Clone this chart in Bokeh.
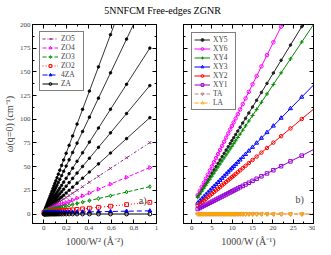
import math
from bokeh.plotting import figure
from bokeh.layouts import row, column
from bokeh.models import (Div, LinearAxis, FixedTicker, Legend, LegendItem, Label,
                          CustomJSTickFormatter)
from bokeh.embed import file_html
from bokeh.resources import INLINE

FONT = "Liberation Serif"

widths = [32.6, 36.9, 41.1, 45.4, 49.7, 53.9, 58.2, 62.5, 66.7, 71.0, 75.3, 79.5,
          83.8, 88.0, 92.3, 96.6, 100.8, 105.3, 111.1, 117.6, 125.0, 133.3, 142.9,
          153.8, 166.7, 181.8, 200.0, 222.2, 250.0, 285.7, 333.3, 400.0, 500.0, 666.7]

# panel a): omega(q=0) = intercept + slope * (1000/W^2)
fan_intercepts = [1.0, 1.0, 1.0, 1.0, 1.0]
fan_slopes = [318.0, 250.0, 185.0, 143.0, 107.0]
left_names = ["ZO5", "ZO4", "ZO3", "ZO2", "4ZA", "ZA"]
left_intercepts = [2.0, 2.0, 3.0, 1.5, 1.5, 0.0]
left_slopes = [78.0, 50.0, 27.5, 11.5, 2.0, 0.0]

# panel b): omega(q=0) = intercept + slope * (1000/W)
right_names = ["XY5", "XY6", "XY4", "XY3", "XY2", "XY1", "TA", "LA"]
right_intercepts = [8.0, 7.0, 8.0, 5.0, 3.5, 2.0, 0.0, 0.0]
right_slopes = [7.0, 8.66, 6.4, 4.37, 3.57, 2.2, 0.0, 0.0]

left_xticks = [0, 0.2, 0.4, 0.6, 0.8, 1.0]
left_xlabels = ["0", "0,2", "0,4", "0,6", "0,8", "1"]
yticks = [0, 25, 50, 75, 100, 125, 150, 175, 200]
right_xticks = [0, 5, 10, 15, 20, 25, 30]

# styles
left_colors = ["#8B2A7A", "#FF00FF", "#008B00", "#FF0000", "#0000FF", "#000000"]
left_dashes = ["3 2 1 2", "4 2", "4 2", "1 2", "5 3", "solid"]
left_markers = ["x", "triangle", "diamond", "square", "triangle", "circle"]
left_angles = [0, -math.pi / 2, 0, 0, 0, 0]
left_fill = [0, 0, 0, 0, 1, 0]

right_colors = ["#222222", "#FF00FF", "#008B00", "#0000FF", "#FF0000", "#9400D3", "#C08080", "#FFA500"]
right_dashes = ["solid", "solid", "solid", "solid", "solid", "solid", "4 2", "4 2 1 2"]
right_markers = ["circle", "circle", "cross", "triangle", "circle", "square", "inverted_triangle", "triangle"]
right_angles = [0, 0, 0, 0, 0, 0, 0, math.pi / 2]
right_fill = [1, 0, 0, 0, 0, 0, 0, 0]
right_sizes = [2.5, 3.5, 4, 4, 3.5, 3.5, 4, 4]

x_left = [1000.0 / (w * w) for w in widths]
x_right = [1000.0 / w for w in widths]


def style_axis(ax, labels=True, title=None):
    ax.axis_line_color = "black"
    ax.axis_line_width = 1
    ax.major_tick_in = 4
    ax.major_tick_out = 0
    ax.minor_tick_in = 2
    ax.minor_tick_out = 0
    ax.major_tick_line_color = "black"
    ax.minor_tick_line_color = "black"
    ax.major_label_text_font = FONT
    if labels:
        ax.major_label_text_font_size = "7px"
        ax.major_label_standoff = 2
    else:
        ax.major_label_text_font_size = "0px"
        ax.major_label_standoff = 0
        ax.formatter = CustomJSTickFormatter(code="return ''")
    if title is not None:
        ax.axis_label = title
        ax.axis_label_text_font = FONT
        ax.axis_label_text_font_size = "10px"
        ax.axis_label_text_font_style = "normal"
        ax.axis_label_standoff = 3


def make_fig(width, xr, mbl, mbr):
    f = figure(width=width, height=227, x_range=xr, y_range=(-10, 200),
               output_backend="svg", toolbar_location=None,
               min_border_left=mbl, min_border_right=mbr,
               min_border_top=2, min_border_bottom=26)
    f.grid.visible = False
    f.outline_line_color = "black"
    f.background_fill_color = "white"
    return f


def make_legend(items, margin):
    return Legend(items=items, location="top_left", margin=margin, padding=2, spacing=0,
                  label_height=7, glyph_height=7, glyph_width=16, label_standoff=3,
                  label_text_font=FONT, label_text_font_size="7.5px",
                  label_text_line_height=0.9,
                  border_line_color="black", border_line_width=1,
                  background_fill_color="white", background_fill_alpha=1)


# ---------------- panel a ----------------
f1 = make_fig(170, (-0.1, 1.0), 26, 14)
xt1 = FixedTicker(ticks=left_xticks, minor_ticks=[-0.1, 0.1, 0.3, 0.5, 0.7, 0.9])
yt = FixedTicker(ticks=yticks, minor_ticks=[12.5 + 25 * i for i in range(8)])
f1.xaxis.ticker = xt1
f1.xaxis.major_label_overrides = {t: l for t, l in zip(left_xticks, left_xlabels)}
f1.yaxis.ticker = yt
style_axis(f1.xaxis[0], True, "1000/W² (Å⁻²)")
style_axis(f1.yaxis[0], True, "ω(q=0) (cm⁻¹)")
f1.yaxis[0].axis_label_standoff = 2
top1 = LinearAxis(ticker=xt1)
style_axis(top1, False)
f1.add_layout(top1, "above")
right1 = LinearAxis(ticker=yt)
style_axis(right1, False)
f1.add_layout(right1, "right")

for a, b in zip(fan_intercepts, fan_slopes):
    ys = [a + b * x for x in x_left]
    f1.line(x_left, ys, line_color="black", line_width=0.8)
    f1.scatter(x_left, ys, marker="circle", size=2.6, line_color="black",
               fill_color="black", line_width=0.8)

items1 = []
for name, a, b, c, d, m, ang, fl in zip(left_names, left_intercepts, left_slopes,
                                        left_colors, left_dashes, left_markers,
                                        left_angles, left_fill):
    ys = [a + b * x for x in x_left]
    lr = f1.line(x_left, ys, line_color=c, line_width=1, line_dash=d)
    sr = f1.scatter(x_left, ys, marker=m, size=3.8, angle=ang, line_color=c,
                    fill_color=c, fill_alpha=fl, line_width=1)
    items1.append(LegendItem(label=name, renderers=[lr, sr]))

f1.add_layout(make_legend(items1, 7))
f1.add_layout(Label(x=0.878, y=14.4, text="a)", text_font=FONT, text_font_size="10px",
                    text_align="center", text_baseline="middle"))

# ---------------- panel b ----------------
f2 = make_fig(145, (-2, 30), 13, 2)
xt2 = FixedTicker(ticks=right_xticks, minor_ticks=[2.5 + 5 * i for i in range(6)])
f2.xaxis.ticker = xt2
f2.yaxis.ticker = yt
style_axis(f2.xaxis[0], True, "1000/W (Å⁻¹)")
style_axis(f2.yaxis[0], False)
top2 = LinearAxis(ticker=xt2)
style_axis(top2, False)
f2.add_layout(top2, "above")
right2 = LinearAxis(ticker=yt)
style_axis(right2, False)
f2.add_layout(right2, "right")

items2 = []
for name, a, b, c, d, m, ang, fl, sz in zip(right_names, right_intercepts, right_slopes,
                                            right_colors, right_dashes, right_markers,
                                            right_angles, right_fill, right_sizes):
    ys = [a + b * x for x in x_right]
    lr = f2.line(x_right, ys, line_color=c, line_width=1, line_dash=d)
    sr = f2.scatter(x_right, ys, marker=m, size=sz, angle=ang, line_color=c,
                    fill_color=c, fill_alpha=fl, line_width=1)
    items2.append(LegendItem(label=name, renderers=[lr, sr]))

f2.add_layout(make_legend(items2, 8))
f2.add_layout(Label(x=26.6, y=15.3, text="b)", text_font=FONT, text_font_size="10px",
                    text_align="center", text_baseline="middle"))

title = Div(text="5NNFCM Free-edges ZGNR", width=315, height=12,
            styles={"font-family": FONT, "font-size": "10px", "text-align": "center",
                    "line-height": "12px", "color": "black"})

layout = column(title, row(f1, f2))
open("out.html", "w").write(file_html(layout, INLINE))
